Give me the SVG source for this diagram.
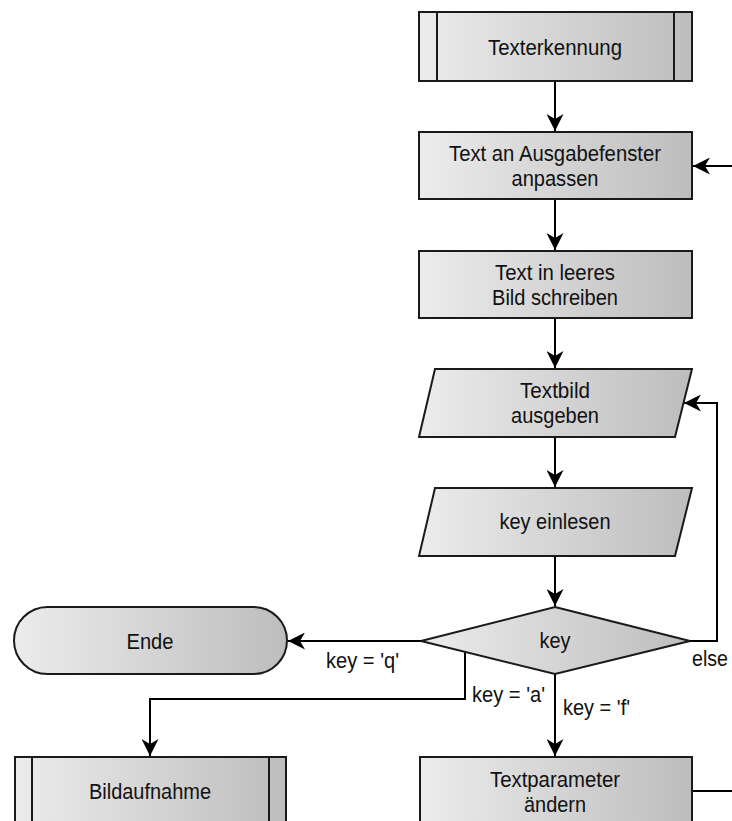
<svg xmlns="http://www.w3.org/2000/svg" width="732" height="821" viewBox="0 0 732 821">
  <defs>
    <linearGradient id="fill" x1="0" y1="0" x2="1" y2="0">
      <stop offset="0" stop-color="#ececec"/>
      <stop offset="1" stop-color="#bdbdbd"/>
    </linearGradient>
    <marker id="arrow" markerUnits="userSpaceOnUse" markerWidth="18" markerHeight="17" refX="17" refY="8.5" orient="auto">
      <path d="M0,0 L17,8.5 L0,17 L5,8.5 Z" fill="#000"/>
    </marker>
    <style>
      .shape { fill: url(#fill); stroke: #1a1a1a; stroke-width: 2; }
      .bar { stroke: #1a1a1a; stroke-width: 2; fill: none; }
      .label { font-family: "Liberation Sans", Arial, sans-serif; font-size: 22px; fill: #111; text-anchor: middle; }
      .edge-label { font-family: "Liberation Sans", Arial, sans-serif; font-size: 22px; fill: #111; }
      .conn { fill: none; stroke: #000; stroke-width: 2; }
    </style>
  </defs>

  <rect width="732" height="821" fill="#fff"/>

  <!-- connectors -->
  <g id="connectors">
    <path class="conn" d="M555,81 V131" marker-end="url(#arrow)"/>
    <path class="conn" d="M732,166 H693" marker-end="url(#arrow)"/>
    <path class="conn" d="M555,199 V250" marker-end="url(#arrow)"/>
    <path class="conn" d="M555,318 V368" marker-end="url(#arrow)"/>
    <path class="conn" d="M555,437 V487" marker-end="url(#arrow)"/>
    <path class="conn" d="M555,556 V606" marker-end="url(#arrow)"/>
    <path class="conn" d="M690,641 H717 V403 H684" marker-end="url(#arrow)"/>
    <path class="conn" d="M421,641 H288" marker-end="url(#arrow)"/>
    <path class="conn" d="M465,652 V699 H150 V756" marker-end="url(#arrow)"/>
    <path class="conn" d="M555,674 V756" marker-end="url(#arrow)"/>
    <path class="conn" d="M692,791 H732"/>
    <!-- labels are set slightly tall: width kept, glyphs narrowed -->
    <text class="edge-label" x="326" y="668" textLength="73" lengthAdjust="spacingAndGlyphs">key = 'q'</text>
    <text class="edge-label" x="692" y="666" textLength="36" lengthAdjust="spacingAndGlyphs">else</text>
    <text class="edge-label" x="472" y="702" textLength="73" lengthAdjust="spacingAndGlyphs">key = 'a'</text>
    <text class="edge-label" x="563" y="715" textLength="67" lengthAdjust="spacingAndGlyphs">key = 'f'</text>
  </g>

  <!-- nodes -->
  <g id="texterkennung">
    <rect class="shape" x="419" y="12" width="273" height="69"/>
    <path class="bar" d="M437,12 V81 M674,12 V81"/>
    <text class="label" x="555" y="55" textLength="134" lengthAdjust="spacingAndGlyphs">Texterkennung</text>
  </g>

  <g id="anpassen">
    <rect class="shape" x="419" y="132" width="273" height="67"/>
    <text class="label" x="555" y="161" textLength="212" lengthAdjust="spacingAndGlyphs">Text an Ausgabefenster</text>
    <text class="label" x="555" y="186" textLength="87" lengthAdjust="spacingAndGlyphs">anpassen</text>
  </g>

  <g id="schreiben">
    <rect class="shape" x="419" y="251" width="273" height="67"/>
    <text class="label" x="555" y="280" textLength="120" lengthAdjust="spacingAndGlyphs">Text in leeres</text>
    <text class="label" x="555" y="305" textLength="126" lengthAdjust="spacingAndGlyphs">Bild schreiben</text>
  </g>

  <g id="ausgeben">
    <path class="shape" d="M435,369 H692 L675,437 H419 Z"/>
    <text class="label" x="555" y="398" textLength="70" lengthAdjust="spacingAndGlyphs">Textbild</text>
    <text class="label" x="555" y="423" textLength="88" lengthAdjust="spacingAndGlyphs">ausgeben</text>
  </g>

  <g id="einlesen">
    <path class="shape" d="M435,488 H692 L675,556 H419 Z"/>
    <text class="label" x="555" y="529" textLength="111" lengthAdjust="spacingAndGlyphs">key einlesen</text>
  </g>

  <g id="key">
    <path class="shape" d="M555,607 L690,641 L555,674 L421,641 Z"/>
    <text class="label" x="555" y="648" textLength="31" lengthAdjust="spacingAndGlyphs">key</text>
  </g>

  <g id="ende">
    <rect class="shape" x="14" y="607" width="273" height="67" rx="33.5" ry="33.5"/>
    <text class="label" x="150" y="649" textLength="47" lengthAdjust="spacingAndGlyphs">Ende</text>
  </g>

  <g id="bildaufnahme">
    <rect class="shape" x="15" y="757" width="271" height="70"/>
    <path class="bar" d="M32,757 V827 M269,757 V827"/>
    <text class="label" x="150" y="799" textLength="122" lengthAdjust="spacingAndGlyphs">Bildaufnahme</text>
  </g>

  <g id="textparameter">
    <rect class="shape" x="420" y="757" width="272" height="70"/>
    <text class="label" x="555" y="787" textLength="130" lengthAdjust="spacingAndGlyphs">Textparameter</text>
    <text class="label" x="555" y="812" textLength="62" lengthAdjust="spacingAndGlyphs">ändern</text>
  </g>
</svg>
